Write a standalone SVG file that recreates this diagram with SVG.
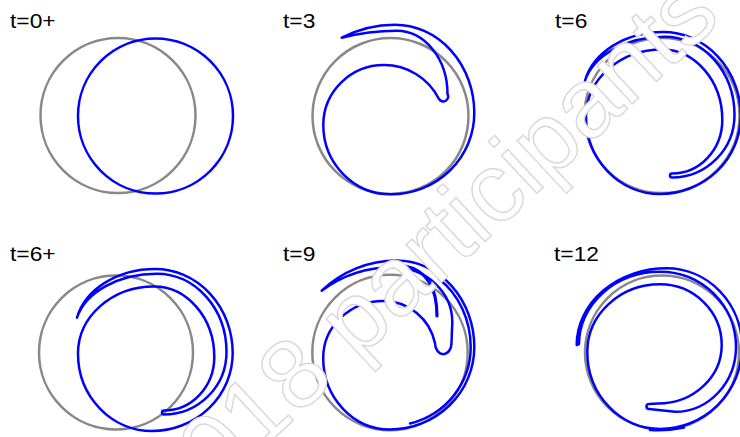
<svg xmlns="http://www.w3.org/2000/svg" xmlns:xlink="http://www.w3.org/1999/xlink" width="740" height="437" viewBox="0 0 740 437">
<style>
.g{fill:none;stroke:#888888;stroke-width:2.5}
.b{fill:none;stroke:#0000ff;stroke-width:2.5;stroke-linejoin:round;stroke-linecap:round}
.lab{font-family:"Liberation Sans",Arial,sans-serif;font-size:20px;fill:#000}
.wm{font-family:"Liberation Sans",Arial,sans-serif;font-size:98px;fill:#ffffff;stroke:#d8d8d8;stroke-width:1.4}
</style>
<defs>
<path id="s6" class="b" d="M585,80.7 A80 62.6 0 0 1 663,32 A77.7 84 0 0 1 740.7,116 A80.7 78 0 0 1 660,194 A74 77.5 0 0 1 586,116.5 A76 67 0 0 1 662,49.5 A60.3 70.5 0 0 1 722.3,120 A50.3 53.5 0 0 1 672,173.5 A2 2 0 0 0 672,177.5 A62.5 62.5 0 0 0 734.5,115 A69.5 78.3 0 0 0 665,36.7 A82 56.4 0 0 0 585,80.7 Z"/>
</defs>
<g id="panel-t0">
<circle class="g" cx="118" cy="115.5" r="77.5"/>
<circle class="b" cx="155.5" cy="116" r="77.5"/>
<text class="lab" transform="translate(10,28) scale(1.14,1)">t=0+</text>
</g>
<g id="panel-t3">
<circle class="g" cx="390.5" cy="116" r="78"/>
<path class="b" d="M341.7,37.7 A115.8 115.8 0 0 1 395,24.7 A79.3 88.3 0 0 1 474.3,113 A83.3 81.3 0 0 1 391,194.3 A67.7 69.3 0 0 1 323.3,125 A60.7 60 0 0 1 384,65 A61.5 61.5 0 0 1 439,99 A4.9 4.9 0 0 0 447.5,94 A50.8 63.3 0 0 0 396.7,30.7 A219.6 219.6 0 0 0 341.7,37.7 Z"/>
<text class="lab" transform="translate(283,28) scale(1.14,1)">t=3</text>
</g>
<g id="panel-t6">
<circle class="g" cx="662" cy="115.5" r="77.5"/>
<use xlink:href="#s6" href="#s6"/>
<text class="lab" transform="translate(555,28) scale(1.14,1)">t=6</text>
</g>
<g id="panel-t6plus">
<circle class="g" cx="116" cy="352.5" r="77"/>
<use xlink:href="#s6" href="#s6" transform="translate(-508,237)"/>
<text class="lab" transform="translate(10,261) scale(1.14,1)">t=6+</text>
</g>
<g id="panel-t9">
<circle class="g" cx="390" cy="352.5" r="77.7"/>
<path class="b" d="M321.7,290.7 A108.2 108.2 0 0 1 396.7,260.5 A77.6 86.5 0 0 1 474.3,347 A84.3 82.5 0 0 1 390,429.5 A66.8 71.5 0 0 1 323.2,358 A60.1 57 0 0 1 383.3,301 A52.7 52.7 0 0 1 435,343.3 A8.25 11 0 0 0 451.5,343 L452.3,322 A59.3 54.7 0 0 0 393,267.3 A120.3 120.3 0 0 0 321.7,290.7 Z"/>
<path class="b" d="M439.1,279 A74 83 0 0 1 470.7,347 A80.7 79 0 0 1 410,423.5"/>
<path class="b" style="stroke-width:3.2" d="M405,266 C425,270 437,285 437,316"/>
<text class="lab" transform="translate(283,261) scale(1.14,1)">t=9</text>
</g>
<g id="panel-t12">
<circle class="g" cx="662" cy="352.5" r="77"/>
<path class="b" d="M576.7,345 A90 76.7 0 0 1 666.7,268.3 A75.3 78.4 0 0 1 742,346.7 A82 82.3 0 0 1 660,429 A72.7 77 0 0 1 587.3,352 A72.7 67.7 0 0 1 660,284.3 A61.7 60.7 0 0 1 721.7,345 A63.7 58.5 0 0 1 658,403.5 L649,404 A2.5 2.5 0 0 0 649,409 L675,411.8 A61 65.1 0 0 0 736,346.7 A76 74.9 0 0 0 660,271.8 A81 72.2 0 0 0 579,344 Z"/>
<path class="b" d="M684,427.5 Q668,431 650,430"/>
<text class="lab" transform="translate(554,261) scale(1.14,1)">t=12</text>
</g>
<g id="watermark">
<text class="wm" transform="translate(177.3,528.5) rotate(-43)">2018 participants</text>
</g>
</svg>
